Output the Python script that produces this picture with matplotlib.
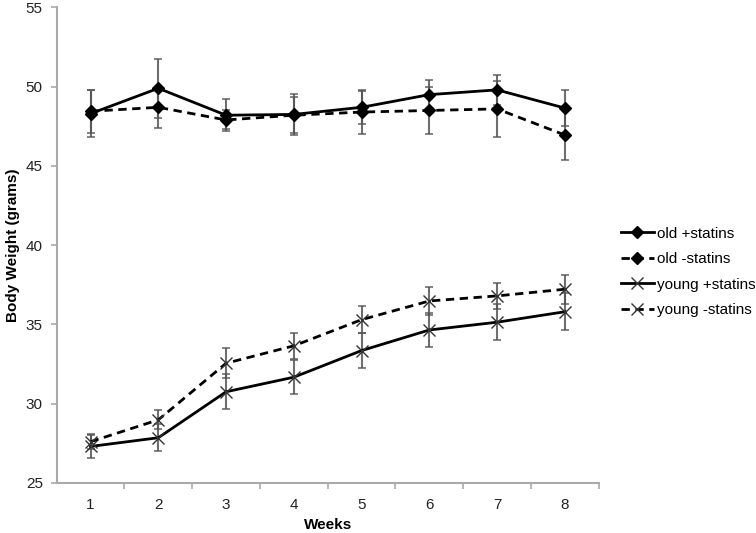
import numpy as np
import matplotlib
matplotlib.use('Agg')
import matplotlib.pyplot as plt

plt.rcParams['font.family'] = ['Liberation Sans', 'DejaVu Sans']

weeks = [1, 2, 3, 4, 5, 6, 7, 8]

old_plus = [48.3, 49.9, 48.2, 48.25, 48.7, 49.5, 49.8, 48.65]
old_plus_err = [1.5, 1.85, 1.0, 1.3, 1.06, 0.95, 0.95, 1.16]
old_minus = [48.45, 48.7, 47.9, 48.2, 48.4, 48.5, 48.6, 46.95]
old_minus_err = [1.35, 1.3, 0.6, 1.15, 1.37, 1.47, 1.78, 1.6]

young_plus = [27.3, 27.85, 30.75, 31.67, 33.35, 34.65, 35.14, 35.8]
young_plus_err = [0.75, 0.84, 1.1, 1.07, 1.11, 1.05, 1.12, 1.16]
young_minus = [27.6, 28.98, 32.55, 33.65, 35.3, 36.48, 36.8, 37.22]
young_minus_err = [0.48, 0.6, 0.95, 0.82, 0.87, 0.88, 0.84, 0.9]

labels = ['old +statins', 'old -statins', 'young +statins', 'young -statins']

fig = plt.figure(figsize=(7.56, 5.33), dpi=100)
ax = fig.add_axes([0.075, 0.094, 0.717, 0.892])

series = [
    (old_plus, old_plus_err, '-', 'D'),
    (old_minus, old_minus_err, '--', 'D'),
    (young_plus, young_plus_err, '-', 'x'),
    (young_minus, young_minus_err, '--', 'x'),
]

handles = []
for (vals, errs, ls, mk), lab in zip(series, labels):
    ax.errorbar(weeks, vals, yerr=errs, fmt='none', ecolor='#555555',
                elinewidth=1.5, capsize=3, capthick=1.2, alpha=0.85, zorder=2)
    if mk == 'D':
        h, = ax.plot(weeks, vals, linestyle=ls, color='black', linewidth=2,
                     marker='D', markersize=6, markerfacecolor='black',
                     markeredgecolor='black', zorder=3, label=lab)
    else:
        h, = ax.plot(weeks, vals, linestyle=ls, color='black', linewidth=2,
                     marker='x', markersize=8, markeredgewidth=1,
                     markeredgecolor='#333333', zorder=3, label=lab)
    if ls == '--':
        h.set_dashes((3, 2))
    handles.append(h)

ax.set_xlim(0.5, 8.5)
ax.set_ylim(25, 55)
ax.set_yticks(np.arange(25, 56, 5))
ax.set_xticks(weeks)
ax.set_xticks(np.arange(1.5, 8.6, 1), minor=True)

for s in ['top', 'right']:
    ax.spines[s].set_visible(False)
for s in ['left', 'bottom']:
    ax.spines[s].set_color('#aaaaaa')
    ax.spines[s].set_linewidth(1.5)

ax.tick_params(axis='x', which='major', length=0, pad=11, labelsize=11, labelcolor='#222222')
ax.tick_params(axis='x', which='minor', length=4, width=1.2, color='#aaaaaa', direction='out')
ax.tick_params(axis='y', length=4, width=1.2, color='#aaaaaa', direction='out',
               labelsize=11, labelcolor='#222222', pad=6)

ax.set_xlabel('Weeks', fontsize=11, fontweight='bold', labelpad=4)
ax.set_ylabel('Body Weight (grams)', fontsize=11, fontweight='bold', labelpad=4)

fig.legend(handles=handles, labels=labels, loc='center left',
           bbox_to_anchor=(0.822, 0.49), frameon=False, fontsize=11,
           handlelength=2.1, handletextpad=0.25, labelspacing=0.75,
           borderpad=0, borderaxespad=0)

fig.savefig('out.png', dpi=100)
